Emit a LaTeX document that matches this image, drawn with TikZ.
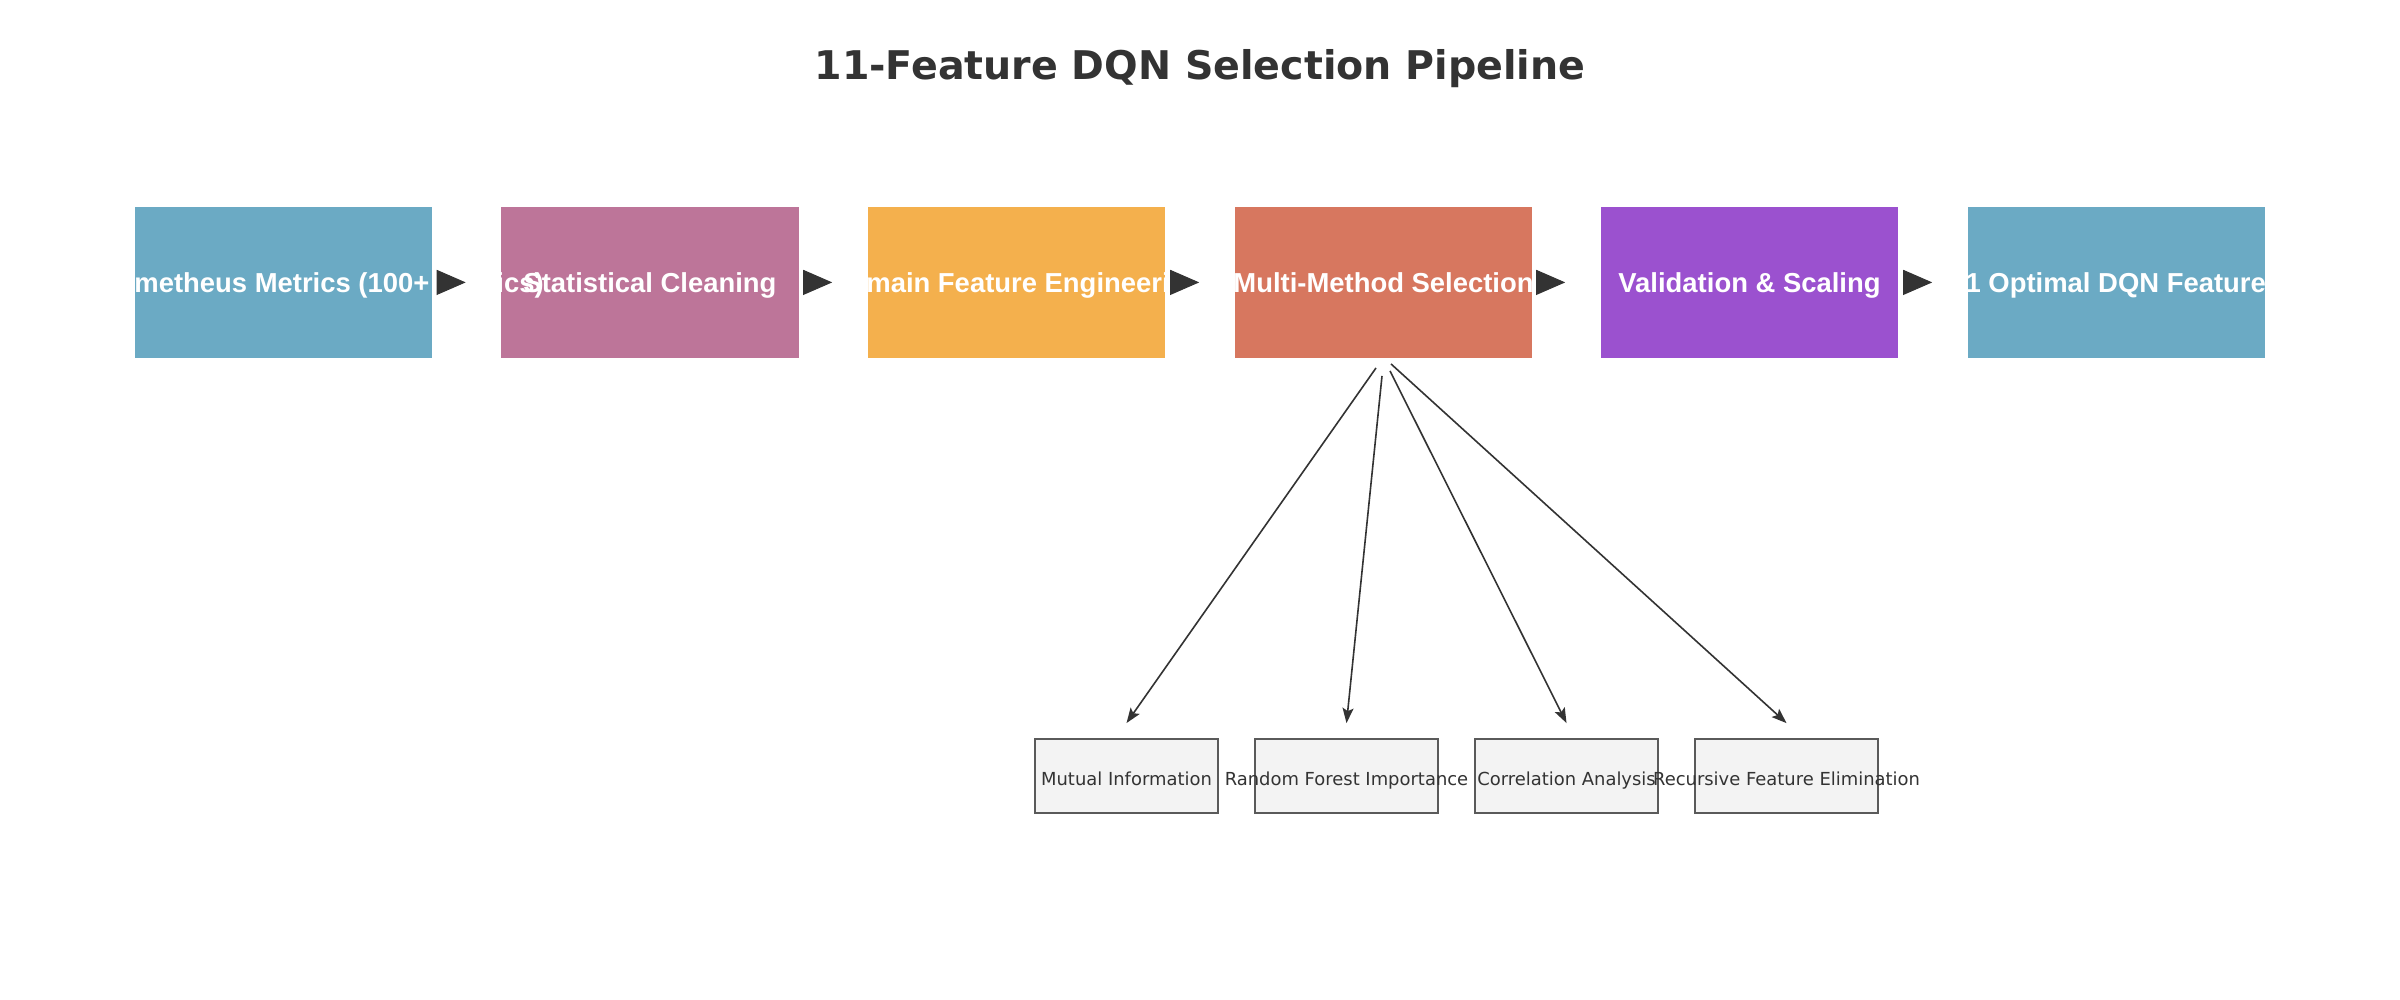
\documentclass[tikz,border=0pt]{standalone}
\usepackage{fontspec}
\usetikzlibrary{arrows.meta}
\newfontfamily\stagefont{Liberation Sans}
\newfontfamily\headfont{DejaVu Sans}
\definecolor{metricsblue}{HTML}{6BAAC4}
\definecolor{cleanpink}{HTML}{BD7599}
\definecolor{domainorange}{HTML}{F4B04D}
\definecolor{selectred}{HTML}{D7775F}
\definecolor{scalepurple}{HTML}{9B51CF}
\definecolor{methodfill}{HTML}{F3F3F3}
\definecolor{methodgray}{HTML}{5A5A5A}
\definecolor{darktext}{HTML}{333333}
\tikzset{
 stage/.style={minimum width=2.97cm, minimum height=1.516cm, inner sep=0},
 stagetext/.style={text=white, anchor=base, inner sep=0, font=\stagefont\bfseries\fontsize{7.8pt}{9pt}\selectfont},
 method/.style={draw=methodgray, fill=methodfill, line width=0.018cm, minimum width=1.835cm, minimum height=0.74cm, inner sep=0, text height=0.2cm, text depth=0.02cm, text=darktext, font=\headfont\fontsize{5.1pt}{6pt}\selectfont},
 flow/.style={draw=darktext, line width=0.01cm, -{Triangle[length=0.29cm,width=0.25cm]}, shorten <=0.05cm, shorten >=0.35cm},
 link/.style={draw=darktext, line width=0.016cm, -{Stealth[length=0.15cm,width=0.11cm,inset=0.03cm]}}
}
\begin{document}
\begin{tikzpicture}[x=0.01cm,y=-0.01cm]
\useasboundingbox[fill=white] (0,0) rectangle (2400,1000);
\node[anchor=base, text=darktext, font=\headfont\bfseries\fontsize{11.24pt}{13pt}\selectfont] (title) at (1200,80) {11-Feature DQN Selection Pipeline};
% pipeline stages
\foreach \i/\x/\c in {1/283.2/metricsblue, 2/650/cleanpink, 3/1016.5/domainorange, 4/1383.5/selectred, 5/1749.5/scalepurple, 6/2116.5/metricsblue}
 \node[stage, fill=\c] (b\i) at (\x,282.4) {};
\foreach \i/\dx/\t in {1/33/{Prometheus Metrics (100+ metrics)}, 2/0/{Statistical Cleaning}, 3/0/{Domain Feature Engineering}, 4/0/{Multi-Method Selection}, 5/0/{Validation \& Scaling}, 6/0/{11 Optimal DQN Features}}
 \node[stagetext] (t\i) at ([shift={(\dx,10)}]b\i.center) {\t};
\foreach \a/\b in {1/2, 2/3, 3/4, 4/5, 5/6}
 \draw[flow] (b\a.east) -- (b\b.west);
% selection methods
\foreach \i/\x/\t in {1/1126.5/{Mutual Information}, 2/1346.5/{Random Forest Importance}, 3/1566.5/{Correlation Analysis}, 4/1786.5/{Recursive Feature Elimination}}
 \node[method] (m\i) at (\x,776) {\makebox[0pt]{\t}};
\foreach \i/\sx/\sy in {1/-7.5/9, 2/-1.5/17, 3/6.5/12, 4/7.5/5}
 \draw[link] ([shift={(\sx,\sy)}]b4.south) -- ([yshift=0.15cm]m\i.north);
\end{tikzpicture}
\end{document}
